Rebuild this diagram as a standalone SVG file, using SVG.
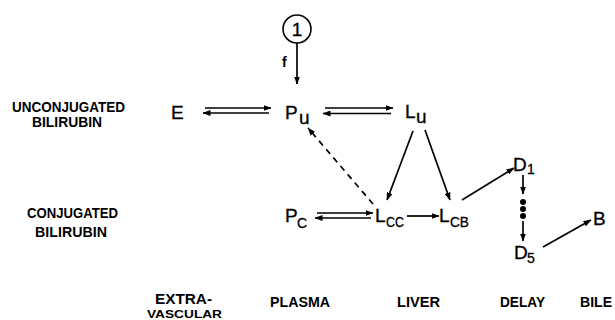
<svg xmlns="http://www.w3.org/2000/svg" width="615" height="320" viewBox="0 0 615 320">
  <defs>
    <marker id="ah" markerUnits="userSpaceOnUse" markerWidth="8" markerHeight="6" refX="7.5" refY="3" orient="auto">
      <path d="M0,0 L8,3 L0,6 z" fill="#000"/>
    </marker>
    <style>
      .lbl { font-family: "Liberation Sans", Arial, sans-serif; font-weight: bold; font-size: 14px; fill: #000; }
      .node { font-family: "Liberation Sans", Arial, sans-serif; font-size: 19px; fill: #000; stroke: #000; stroke-width: 0.3; }
      .sub { font-family: "Liberation Sans", Arial, sans-serif; font-size: 14px; fill: #000; stroke: #000; stroke-width: 0.3; }
      .arr { stroke: #000; stroke-width: 1.7; fill: none; marker-end: url(#ah); }
    </style>
  </defs>
  <rect width="615" height="320" fill="#fff"/>

  <!-- row and column labels -->
  <g id="row-labels">
    <text class="lbl" x="12" y="112" textLength="113" lengthAdjust="spacingAndGlyphs">UNCONJUGATED</text>
    <text class="lbl" x="32" y="127" textLength="70" lengthAdjust="spacingAndGlyphs">BILIRUBIN</text>
    <text class="lbl" x="27" y="218" textLength="91" lengthAdjust="spacingAndGlyphs">CONJUGATED</text>
    <text class="lbl" x="35" y="237" textLength="72" lengthAdjust="spacingAndGlyphs">BILIRUBIN</text>
  </g>
  <g id="column-labels">
    <text class="lbl"><tspan x="155" y="304" textLength="57" lengthAdjust="spacingAndGlyphs">EXTRA-</tspan><tspan x="147" y="318" font-size="11" textLength="75" lengthAdjust="spacingAndGlyphs">VASCULAR</tspan></text>
    <text class="lbl" x="270" y="307" textLength="60" lengthAdjust="spacingAndGlyphs">PLASMA</text>
    <text class="lbl" x="397" y="307" textLength="43" lengthAdjust="spacingAndGlyphs">LIVER</text>
    <text class="lbl" x="500" y="307" textLength="45" lengthAdjust="spacingAndGlyphs">DELAY</text>
    <text class="lbl" x="580" y="307" textLength="32" lengthAdjust="spacingAndGlyphs">BILE</text>
  </g>

  <!-- compartments -->
  <g id="input">
    <circle cx="297" cy="29" r="14" fill="none" stroke="#000" stroke-width="1.6"/>
    <text class="node" x="297" y="36" text-anchor="middle" font-size="20">1</text>
  </g>
  <g id="E"><text class="node" x="171" y="119">E</text></g>
  <g id="Pu"><text class="node" x="285" y="119">P</text><text class="node" x="299" y="124">u</text></g>
  <g id="Lu"><text class="node" x="405" y="118">L</text><text class="node" x="416" y="123">u</text></g>
  <g id="Pc"><text class="node" x="285" y="222">P</text><text class="sub" x="297" y="228">C</text></g>
  <g id="Lcc"><text class="node" x="375" y="222">L</text><text class="sub" x="386" y="227" textLength="18" lengthAdjust="spacingAndGlyphs">CC</text></g>
  <g id="Lcb"><text class="node" x="439" y="222">L</text><text class="sub" x="450" y="227" textLength="19" lengthAdjust="spacingAndGlyphs">CB</text></g>
  <g id="D1"><text class="node" x="513" y="171">D</text><text class="sub" x="527" y="174" font-size="13">1</text></g>
  <g id="D5"><text class="node" x="514" y="259">D</text><text class="sub" x="527" y="263" font-size="13">5</text></g>
  <g id="B"><text class="node" x="593" y="225">B</text></g>

  <!-- transfer pathways -->
  <g id="connectors">
    <line class="arr" x1="297" y1="43" x2="297" y2="84"/>
    <text class="lbl" x="282" y="67" font-size="14">f</text>

    <line class="arr" x1="205" y1="108" x2="271" y2="108"/>
    <line class="arr" x1="269" y1="113" x2="203" y2="113"/>

    <line class="arr" x1="325" y1="108" x2="393" y2="108"/>
    <line class="arr" x1="391" y1="113.5" x2="323" y2="113.5"/>

    <line class="arr" x1="317" y1="213" x2="373" y2="213"/>
    <line class="arr" x1="371" y1="218" x2="315" y2="218"/>

    <line class="arr" x1="413" y1="131" x2="387" y2="200"/>
    <line class="arr" x1="425" y1="130" x2="450" y2="200"/>
    <line class="arr" x1="407" y1="216" x2="439" y2="216"/>
    <line class="arr" x1="462" y1="200" x2="514" y2="168"/>

    <line class="arr" x1="523" y1="175" x2="523" y2="194"/>
    <circle cx="523" cy="202" r="3" fill="#000"/>
    <circle cx="523" cy="209" r="3" fill="#000"/>
    <circle cx="523" cy="216" r="3" fill="#000"/>
    <line class="arr" x1="523" y1="221" x2="523" y2="241"/>

    <line class="arr" x1="543" y1="247" x2="591" y2="220"/>

    <line class="arr" x1="373" y1="204" x2="308" y2="128" stroke-dasharray="6,5"/>
  </g>
</svg>
